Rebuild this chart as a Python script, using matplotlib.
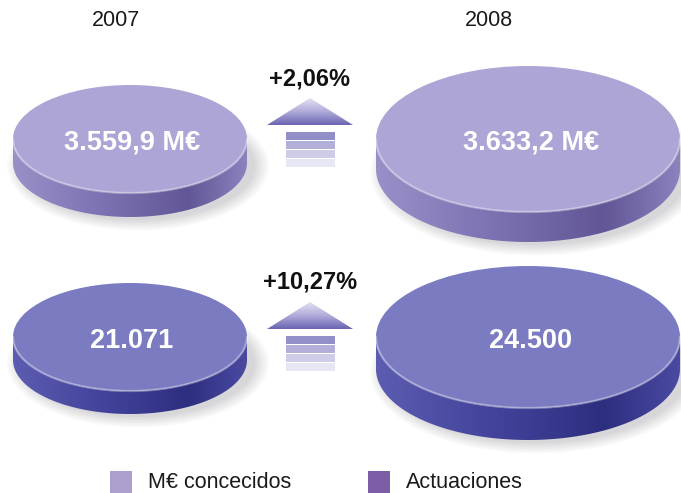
import numpy as np
import matplotlib
matplotlib.use('Agg')
from matplotlib import pyplot as plt
from matplotlib.patches import Ellipse, Polygon, Rectangle
from matplotlib.colors import LinearSegmentedColormap

plt.rcParams['font.family'] = ['Liberation Sans', 'DejaVu Sans']

# data
years = ['2007', '2008']
importes = [3559.9, 3633.2]
importe_labels = ['3.559,9 M€', '3.633,2 M€']
actuaciones = [21071, 24500]
actuacion_labels = ['21.071', '24.500']
variaciones = ['+2,06%', '+10,27%']
legend_labels = ['M€ concecidos', 'Actuaciones']

# styles
face_cols = ['#ADA5D5', '#7B7BC2']
side_cols = [['#9A90C8', '#7F74B4', '#625696', '#8C82BE'],
             ['#5C5CB0', '#45459E', '#2E2E80', '#4A4AA2']]
legend_cols = ['#ADA0CC', '#7B5EA6']

# disc geometry per year (pixels)
disc_cx = [130, 528]
disc_w = [234, 304]
disc_h = [[108, 146], [108, 142]]
disc_t = [[24, 30], [23, 32]]
row_cy = [139, 337]


def draw_disc(ax, cx, cy, w, h, t, face, sides):
    # soft shadow
    for k in range(8):
        ax.add_patch(Ellipse((cx + 8, cy + t + 3), w + 4 * k, h + 3 * k,
                             facecolor='#303040', edgecolor='none', alpha=0.025, zorder=1))
    th = np.linspace(0, np.pi, 120)
    x = cx + w / 2 * np.cos(th)
    y = cy + h / 2 * np.sin(th)
    verts = np.vstack([np.column_stack([x, y]), np.column_stack([x[::-1], y[::-1] + t])])
    side = Polygon(verts, closed=True, facecolor='none', edgecolor='none', zorder=2)
    ax.add_patch(side)
    cmap = LinearSegmentedColormap.from_list('side', list(zip([0, 0.35, 0.75, 1.0], sides)))
    grad = np.linspace(0, 1, 256).reshape(1, -1)
    im = ax.imshow(grad, extent=[cx - w / 2, cx + w / 2, cy + h / 2 + t + 1, cy - 1],
                   cmap=cmap, aspect='auto', zorder=2, interpolation='bilinear')
    im.set_clip_path(side)
    ax.add_patch(Ellipse((cx, cy), w, h, facecolor=face, edgecolor='none', zorder=3))
    ax.plot(x, y, color='white', alpha=0.35, lw=1.6, zorder=4)


def draw_arrow(ax, cx, top):
    tri = Polygon([(cx - 43, top + 27), (cx + 43, top + 27), (cx, top)], closed=True,
                  facecolor='none', edgecolor='none', zorder=2)
    ax.add_patch(tri)
    cmap = LinearSegmentedColormap.from_list('arr', ['#E4E2F2', '#B0ABDA', '#6A64B2'])
    grad = np.linspace(0, 1, 256).reshape(-1, 1)
    im = ax.imshow(grad, extent=[cx - 43, cx + 43, top + 27, top], cmap=cmap,
                   aspect='auto', zorder=2, interpolation='bilinear')
    im.set_clip_path(tri)
    alphas = [0.85, 0.6, 0.38, 0.18]
    for i, a in enumerate(alphas):
        ax.add_patch(Rectangle((cx - 24, top + 34 + 9 * i), 49, 8, facecolor='#7F7ABE',
                               edgecolor='none', alpha=a, zorder=2))


fig = plt.figure(figsize=(6.81, 4.93), dpi=100)
ax = fig.add_axes([0, 0, 1, 1])
ax.set_xlim(0, 681)
ax.set_ylim(493, 0)
ax.axis('off')

year_x = [116, 489]
for i, yr in enumerate(years):
    ax.text(year_x[i], 21, yr, ha='center', va='center', fontsize=15.5, color='#1a1a1a')

rows = [importe_labels, actuacion_labels]
for r in range(2):
    for i in range(len(years)):
        draw_disc(ax, disc_cx[i], row_cy[r], disc_w[i], disc_h[r][i], disc_t[r][i],
                  face_cols[r], side_cols[r])
        ax.text(disc_cx[i] + (3 if i else 2), row_cy[r] + 4, rows[r][i], ha='center', va='center',
                fontsize=19.5, fontweight='bold', color='white', zorder=5)
    draw_arrow(ax, 310, 98 + 204 * r)
    ax.text(310, 79 + 203 * r, variaciones[r], ha='center', va='center', fontsize=17,
            fontweight='bold', color='#111111')

leg_x = [110, 368]
for i, lab in enumerate(legend_labels):
    ax.add_patch(Rectangle((leg_x[i], 471), 22, 22, facecolor=legend_cols[i], edgecolor='none'))
    ax.text(leg_x[i] + 38, 483, lab, ha='left', va='center', fontsize=15.5, color='#1a1a1a')

fig.savefig('out.png', dpi=100)
